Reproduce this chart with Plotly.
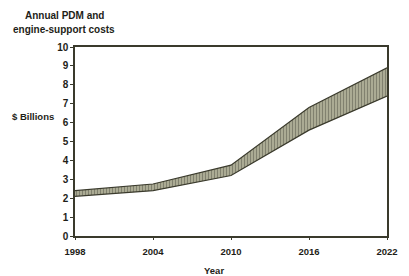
import plotly.graph_objects as go

years = [1998, 2004, 2010, 2016, 2022]
lower = [2.1, 2.4, 3.2, 5.6, 7.4]
upper = [2.4, 2.75, 3.75, 6.8, 8.9]
x_ticks = [1998, 2004, 2010, 2016, 2022]
y_ticks = list(range(0, 11))

ink = "#3a3a2c"
txt = "#1e1e18"
font_fam = "Liberation Sans, Arial, sans-serif"

fig = go.Figure()
fig.add_trace(go.Scatter(x=years, y=lower, mode="lines",
                         line=dict(color=ink, width=1.2), showlegend=False))
fig.add_trace(go.Scatter(x=years, y=upper, mode="lines", fill="tonexty",
                         line=dict(color=ink, width=1.2),
                         fillcolor="#a8a890",
                         fillpattern=dict(shape="|", fgcolor="#45453a", bgcolor="#bdbda5",
                                          size=3, solidity=0.55),
                         showlegend=False))

fig.update_layout(
    width=401, height=268,
    margin=dict(l=67, r=11, t=39, b=40),
    paper_bgcolor="white", plot_bgcolor="white",
    font=dict(family=font_fam, size=9, color=txt),
    xaxis=dict(range=[1998, 2022], tickvals=x_ticks, showgrid=False, zeroline=False,
               showline=True, linecolor=ink, linewidth=1.5, mirror=True,
               ticks="outside", ticklen=2, tickcolor=ink, ticklabelstandoff=4,
               tickfont=dict(family=font_fam, size=9.5, color=txt, weight="bold")),
    yaxis=dict(range=[0, 10], tickvals=y_ticks, showgrid=False, zeroline=False,
               showline=True, linecolor=ink, linewidth=1.5, mirror=True,
               ticks="outside", ticklen=3, tickcolor=ink,
               tickfont=dict(family=font_fam, size=10, color=txt, weight="bold")),
    annotations=[
        dict(text="<b>Annual PDM and</b>", xref="paper", yref="paper",
             x=-0.034, y=1.169, xanchor="center", yanchor="middle", showarrow=False,
             font=dict(family=font_fam, size=10, color=txt)),
        dict(text="<b>engine-support costs</b>", xref="paper", yref="paper",
             x=-0.034, y=1.095, xanchor="center", yanchor="middle", showarrow=False,
             font=dict(family=font_fam, size=10, color=txt)),
        dict(text="<b>$ Billions</b>", xref="paper", yref="paper",
             x=-0.207, y=0.63, xanchor="left", yanchor="middle", showarrow=False,
             font=dict(family=font_fam, size=9.5, color=txt)),
        dict(text="<b>Year</b>", xref="paper", yref="paper",
             x=0.446, y=-0.18, xanchor="center", yanchor="middle", showarrow=False,
             font=dict(family=font_fam, size=9.5, color=txt)),
    ],
)

fig.write_html("out.html")
